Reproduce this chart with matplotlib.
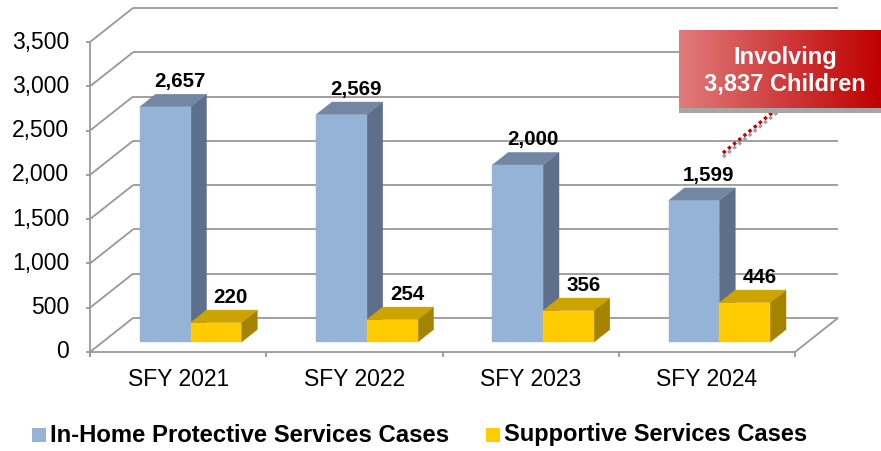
import matplotlib
matplotlib.use('Agg')
import matplotlib.pyplot as plt
import numpy as np
from matplotlib.patches import Polygon, Rectangle
from matplotlib.colors import to_rgb

# ---------------- data ----------------
categories = ['SFY 2021', 'SFY 2022', 'SFY 2023', 'SFY 2024']
in_home = [2657, 2569, 2000, 1599]
supportive = [220, 254, 356, 446]
series_names = ['In-Home Protective Services Cases', 'Supportive Services Cases']
y_ticks = [0, 500, 1000, 1500, 2000, 2500, 3000, 3500]
callout_text = 'Involving\n3,837 Children'

# ---------------- layout ----------------
W, H = 881, 451
X0, XS = 90.0, 176.25      # pixel of category 0, pixels per category
Y0, YS = 352.0, 0.08857    # pixel of value 0, pixels per unit
DXp, DYp = 43.0, 34.0      # 3D depth offset in pixels (back wall)
DX, DY = DXp / XS, DYp / YS
Z0, Z1 = 0.29, 0.66        # bar depth range
BW = 0.288                 # bar width in category units
B0 = 0.212                 # offset of first bar in category

FONT = 'Liberation Sans'

fig = plt.figure(figsize=(W / 100, H / 100), dpi=100)
ax = fig.add_axes([0, 0, 1, 1])
ax.set_axis_off()
XL = (-X0 / XS, (W - X0) / XS)
YL = (-(H - Y0) / YS, Y0 / YS)
ax.set_xlim(*XL)
ax.set_ylim(*YL)


def P(c, v, z=0.0):
    return (c + z * DX, v + z * DY)


def pix(xp, yp):
    return ((xp - X0) / XS, (Y0 - yp) / YS)


n = len(categories)
ymax = y_ticks[-1]
grid_kw = dict(color='#989898', lw=1.3, zorder=1, solid_capstyle='butt')

# back wall gridlines and left wall diagonals
for v in y_ticks:
    a = P(0, v, 1); b = P(n, v, 1)
    ax.plot([a[0], b[0]], [a[1], b[1]], **grid_kw)
    f = P(0, v, 0)
    ax.plot([f[0], a[0]], [f[1], a[1]], **grid_kw)
    t = pix(86, 0)[0]
    ax.plot([t, f[0]], [v, v], **grid_kw)
    ax.text(pix(69, 0)[0], v, f'{v:,}', ha='right', va='center',
            fontsize=16.5, family=FONT, color='black')

# floor front edge and right edge
ax.plot([0, n], [0, 0], **grid_kw)
r = P(n, 0, 1)
ax.plot([n, r[0]], [0, r[1]], **grid_kw)
# front vertical axis
ax.plot([0, 0], [pix(0, 357)[1], ymax], **grid_kw)
# category ticks
for i in range(n + 1):
    ax.plot([i, i], [0, pix(0, 357)[1]], **grid_kw)

for i, c in enumerate(categories):
    ax.text(i + 0.5, pix(0, 379)[1], c, ha='center', va='center',
            fontsize=16.5, family=FONT, color='black')

# ---------------- 3D bars ----------------
blue = ('#95B3D7', '#7387A5', '#5E6F8A')
yellow = ('#FFCC00', '#CCA300', '#A38300')


def bar3d(x0, x1, v, cols, zo):
    front, top, side = cols
    fr = [P(x0, 0, Z0), P(x1, 0, Z0), P(x1, v, Z0), P(x0, v, Z0)]
    tp = [P(x0, v, Z0), P(x1, v, Z0), P(x1, v, Z1), P(x0, v, Z1)]
    sd = [P(x1, 0, Z0), P(x1, 0, Z1), P(x1, v, Z1), P(x1, v, Z0)]
    for poly, col in ((sd, side), (tp, top), (fr, front)):
        ax.add_patch(Polygon(poly, closed=True, facecolor=col, edgecolor=col,
                             lw=0.3, zorder=zo))


for i in range(n):
    xa = i + B0
    xb = xa + BW
    xc = xb + BW
    bar3d(xa, xb, in_home[i], blue, 3)
    bar3d(xb, xc, supportive[i], yellow, 4)
    for (l, rr, v) in ((xa, xb, in_home[i]), (xb, xc, supportive[i])):
        px, py = P((l + rr) / 2, v, Z1)
        ax.annotate(f'{v:,}', (px, py), xytext=(-1, 3), textcoords='offset pixels',
                    ha='center', va='bottom', fontsize=14.8, fontweight='bold',
                    family=FONT, color='black', zorder=6)

# ---------------- legend ----------------
renderer = fig.canvas.get_renderer()


def fit_text(x, y, s, target_w, size0):
    t = ax.text(x, y, s, ha='left', va='center', fontsize=size0,
                fontweight='bold', family=FONT, color='black')
    w = t.get_window_extent(renderer).width
    t.set_fontsize(size0 * target_w / w)
    return t


leg = [(32, 50, 402, blue[0], series_names[0]), (486, 504, 306, yellow[0], series_names[1])]
for sx, tx, tw, col, name in leg:
    a = pix(sx, 442); b = pix(sx + 14, 428)
    ax.add_patch(Rectangle(a, b[0] - a[0], b[1] - a[1], facecolor=col, edgecolor='none'))
    x, y = pix(tx, 435)
    fit_text(x, y, name, tw, 15)

# ---------------- callout ----------------
bx0, by0 = pix(679, 108)
bx1, by1 = pix(881, 30)
sh0 = pix(679, 113)
ax.add_patch(Rectangle(sh0, bx1 - bx0, by0 - sh0[1], facecolor='#A6A6A6',
                       edgecolor='none', zorder=7))
c1 = np.array(to_rgb('#E07B7B')); c2 = np.array(to_rgb('#C00000'))
tt = np.linspace(0, 1, 256)
grad = (c1[None, :] * (1 - tt[:, None]) + c2[None, :] * tt[:, None])[None, :, :]
ax.imshow(grad, extent=(bx0, bx1, by0, by1), aspect='auto', zorder=8,
          interpolation='bilinear')
ax.set_xlim(*XL)
ax.set_ylim(*YL)
cx, cy = pix(785, 71)
ax.text(cx, cy, callout_text, ha='center', va='center', fontsize=17,
        fontweight='bold', family=FONT, color='white', linespacing=1.2, zorder=9)

# dotted connector with shadow
p1 = pix(723, 153); p2 = pix(779, 107)
s1 = pix(723, 157); s2 = pix(779, 111)
ax.plot([s1[0], s2[0]], [s1[1], s2[1]], color='#A0A0A0', lw=2.4,
        linestyle=(0, (1, 1)), zorder=6)
ax.plot([p1[0], p2[0]], [p1[1], p2[1]], color='#C00000', lw=2.4,
        linestyle=(0, (1, 1)), zorder=6)

fig.savefig('out.png', dpi=100)
